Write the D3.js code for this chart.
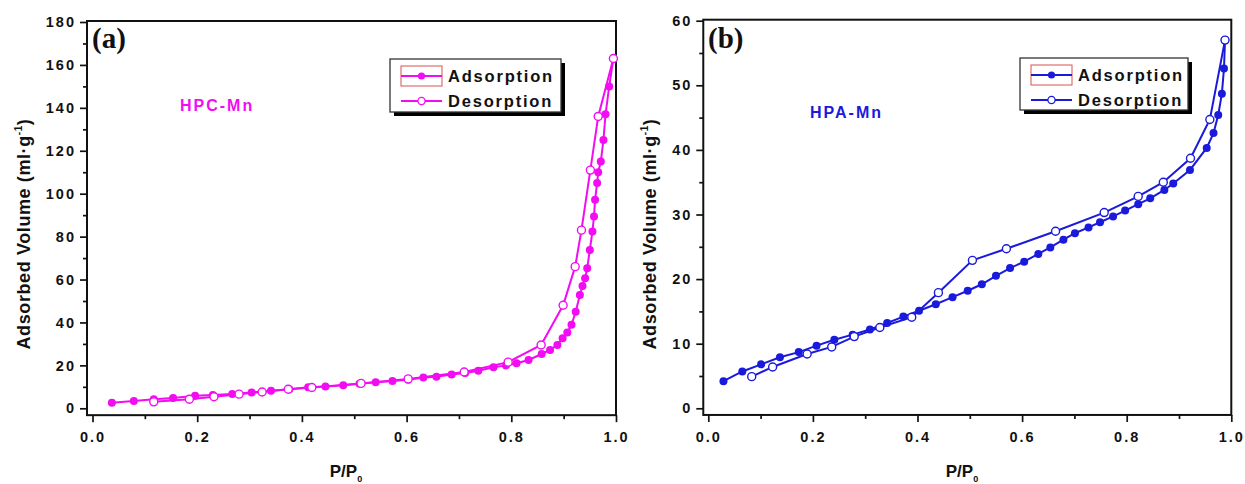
<!DOCTYPE html>
<html>
<head>
<meta charset="utf-8">
<script src="https://cdn.jsdelivr.net/npm/d3@7"></script>
<style>
body { margin: 0; background: #fff; }
svg { display: block; font-family: "Liberation Sans", Arial, sans-serif; }
</style>
</head>
<body>
<div id="chart"></div>
<script>
var svgWidth = 1245, svgHeight = 484;

// P/P0 ticks, same for both panels
var xMajorTicks = [0, 0.2, 0.4, 0.6, 0.8, 1.0];
var xMinorTicks = [0.1, 0.3, 0.5, 0.7, 0.9];

// (a) HPC-Mn
var hpcYTicks = [0, 20, 40, 60, 80, 100, 120, 140, 160, 180];
var hpcYMinor = [10, 30, 50, 70, 90, 110, 130, 150, 170];
var hpcAdsorption = [
  [0.037, 2.6], [0.079, 3.4], [0.117, 4.2], [0.154, 4.8], [0.196, 5.9], [0.23, 6.2],
  [0.267, 6.7], [0.304, 7.4], [0.341, 8.2], [0.376, 8.9], [0.412, 9.8], [0.445, 10.1],
  [0.479, 10.7], [0.51, 11.4], [0.541, 12.1], [0.573, 12.7], [0.603, 13.3], [0.632, 14.3],
  [0.657, 14.7], [0.686, 15.8], [0.712, 16.5], [0.737, 17.5], [0.766, 19.1], [0.79, 20],
  [0.81, 21], [0.833, 22.5], [0.858, 25.3], [0.874, 27.2], [0.888, 29.5], [0.898, 32.6],
  [0.907, 35.3], [0.915, 38.9], [0.923, 45], [0.931, 52.8], [0.936, 57], [0.941, 60.6],
  [0.945, 65.3], [0.95, 73.8], [0.955, 82.4], [0.958, 89.4], [0.96, 97.2], [0.964, 105],
  [0.966, 110], [0.971, 115], [0.976, 125], [0.98, 137], [0.987, 150], [0.995, 163]
];
var hpcDesorption = [
  [0.995, 163], [0.966, 136], [0.951, 111], [0.934, 83], [0.922, 66], [0.899, 48],
  [0.857, 29.5], [0.794, 21.5], [0.71, 16.9], [0.603, 13.7], [0.513, 11.6], [0.419, 9.7],
  [0.374, 8.9], [0.324, 7.6], [0.28, 6.6], [0.232, 5.4], [0.185, 4.2], [0.117, 3.0]
];

// (b) HPA-Mn
var hpaYTicks = [0, 10, 20, 30, 40, 50, 60];
var hpaYMinor = [5, 15, 25, 35, 45, 55];
var hpaAdsorption = [
  [0.029, 4.2], [0.065, 5.7], [0.101, 6.8], [0.137, 7.9], [0.173, 8.7], [0.207, 9.7],
  [0.241, 10.6], [0.276, 11.4], [0.309, 12.2], [0.342, 13.2], [0.373, 14.2], [0.403, 15.1],
  [0.435, 16.1], [0.467, 17.2], [0.496, 18.2], [0.523, 19.2], [0.55, 20.5], [0.577, 21.7],
  [0.604, 22.7], [0.631, 23.9], [0.654, 24.9], [0.679, 26.1], [0.701, 27.1], [0.727, 28.0],
  [0.749, 28.8], [0.774, 29.7], [0.797, 30.6], [0.822, 31.6], [0.845, 32.5], [0.872, 33.8],
  [0.889, 34.8], [0.921, 36.9], [0.953, 40.3], [0.966, 42.6], [0.975, 45.4], [0.982, 48.7],
  [0.986, 52.6], [0.988, 57.0]
];
var hpaDesorption = [
  [0.988, 57.0], [0.959, 44.7], [0.922, 38.7], [0.87, 35.0], [0.822, 32.8], [0.757, 30.3],
  [0.664, 27.4], [0.57, 24.7], [0.505, 22.9], [0.44, 17.9], [0.389, 14.1], [0.328, 12.5],
  [0.279, 11.1], [0.236, 9.5], [0.189, 8.4], [0.123, 6.4], [0.083, 4.9]
];

var legendLabels = ["Adsorption", "Desorption"];

var svg = d3.select("#chart")
  .append("svg")
  .attr("width", svgWidth)
  .attr("height", svgHeight);

var panels = [
  {
    tag: "(a)", name: "HPC-Mn", color: "#f20cf2",
    ads: hpcAdsorption, des: hpcDesorption,
    yTicks: hpcYTicks, yMinor: hpcYMinor,
    xRange: [92.5, 616], xMin: -0.0105,
    yDomain: [0, 180], yRange: [408.3, 22], yMin: -3.2,
    tagPos: [92, 48], namePos: [180, 111],
    legend: { x: 390, y: 59, w: 171, h: 53 },
    yTitleX: 30, xTitleX: 346
  },
  {
    tag: "(b)", name: "HPA-Mn", color: "#1a1adc",
    ads: hpaAdsorption, des: hpaDesorption,
    yTicks: hpaYTicks, yMinor: hpaYMinor,
    xRange: [708.3, 1231.3], xMin: -0.0096,
    yDomain: [0, 60], yRange: [408.3, 20.7], yMin: -1.03,
    tagPos: [708, 48], namePos: [810, 118],
    legend: { x: 1020, y: 58, w: 168, h: 52 },
    yTitleX: 656, xTitleX: 962
  }
];

panels.forEach(drawPanel);

function drawPanel(cfg) {
  var x = d3.scaleLinear().domain([0, 1]).range(cfg.xRange);
  var y = d3.scaleLinear().domain(cfg.yDomain).range(cfg.yRange);

  var left = x(cfg.xMin), right = x(1),
      top = y(cfg.yDomain[1]) - 1, bottom = y(cfg.yMin);

  var g = svg.append("g");

  // x axis: minor then major ticks, outward
  g.append("g")
    .attr("class", "tick-minor")
    .attr("transform", "translate(0," + bottom + ")")
    .call(d3.axisBottom(x).tickValues(xMinorTicks).tickSize(4).tickFormat(""));

  g.append("g")
    .attr("class", "tick-major")
    .attr("transform", "translate(0," + bottom + ")")
    .call(d3.axisBottom(x).tickValues(xMajorTicks).tickSize(7).tickPadding(10)
      .tickFormat(d3.format(".1f")));

  // y axis
  g.append("g")
    .attr("class", "tick-minor")
    .attr("transform", "translate(" + left + ",0)")
    .call(d3.axisLeft(y).tickValues(cfg.yMinor).tickSize(4).tickFormat(""));

  g.append("g")
    .attr("class", "tick-major")
    .attr("transform", "translate(" + left + ",0)")
    .call(d3.axisLeft(y).tickValues(cfg.yTicks).tickSize(7).tickPadding(4));

  g.selectAll(".domain").remove();
  g.selectAll(".tick line").attr("stroke", "#111").attr("stroke-width", 1.7);
  g.selectAll(".tick text")
    .attr("fill", "#111")
    .attr("font-size", 14.5)
    .attr("font-weight", "bold")
    .attr("letter-spacing", "2px")
    .attr("font-family", "Liberation Sans, Arial, sans-serif");

  // frame
  g.append("rect")
    .attr("x", left).attr("y", top)
    .attr("width", right - left).attr("height", bottom - top)
    .attr("fill", "none")
    .attr("stroke", "#111")
    .attr("stroke-width", 2);

  var line = d3.line()
    .x(d => x(d[0]))
    .y(d => y(d[1]));

  // adsorption: filled circles
  g.append("path")
    .datum(cfg.ads)
    .attr("d", line)
    .attr("fill", "none")
    .attr("stroke", cfg.color)
    .attr("stroke-width", 2);

  g.append("g").selectAll("circle")
    .data(cfg.ads)
    .enter()
    .append("circle")
    .attr("cx", d => x(d[0]))
    .attr("cy", d => y(d[1]))
    .attr("r", 4)
    .attr("fill", cfg.color);

  // desorption: open circles
  g.append("path")
    .datum(cfg.des)
    .attr("d", line)
    .attr("fill", "none")
    .attr("stroke", cfg.color)
    .attr("stroke-width", 2);

  g.append("g").selectAll("circle")
    .data(cfg.des)
    .enter()
    .append("circle")
    .attr("cx", d => x(d[0]))
    .attr("cy", d => y(d[1]))
    .attr("r", 4)
    .attr("fill", "#fff")
    .attr("stroke", cfg.color)
    .attr("stroke-width", 1.4);

  // panel tag and sample name
  g.append("text")
    .attr("x", cfg.tagPos[0]).attr("y", cfg.tagPos[1])
    .attr("font-family", "Liberation Serif, Times New Roman, serif")
    .attr("font-weight", "bold")
    .attr("font-size", 29)
    .attr("fill", "#111")
    .text(cfg.tag);

  g.append("text")
    .attr("x", cfg.namePos[0]).attr("y", cfg.namePos[1])
    .attr("font-weight", "bold")
    .attr("font-size", 16)
    .attr("letter-spacing", "2px")
    .attr("fill", cfg.color)
    .text(cfg.name);

  // axis titles
  var yTitle = g.append("text")
    .attr("transform", "translate(" + cfg.yTitleX + ",234) rotate(-90)")
    .attr("text-anchor", "middle")
    .attr("font-weight", "bold")
    .attr("font-size", 18)
    .attr("letter-spacing", "0.6px")
    .attr("fill", "#111");
  yTitle.append("tspan").text("Adsorbed Volume (ml\u00b7g");
  yTitle.append("tspan").attr("font-size", 10).attr("dy", -8).text("-1");
  yTitle.append("tspan").attr("dy", 8).text(")");

  var xTitle = g.append("text")
    .attr("x", cfg.xTitleX).attr("y", 477)
    .attr("text-anchor", "middle")
    .attr("font-weight", "bold")
    .attr("font-size", 17)
    .attr("fill", "#111");
  xTitle.append("tspan").text("P/P");
  xTitle.append("tspan").attr("font-size", 9).attr("dy", 5).text("0");

  drawLegend(g, cfg.legend, cfg.color);
}

function drawLegend(g, box, color) {
  var lg = g.append("g");

  // drop shadow then box
  lg.append("rect")
    .attr("x", box.x + 4).attr("y", box.y + 4)
    .attr("width", box.w).attr("height", box.h)
    .attr("fill", "#000");
  lg.append("rect")
    .attr("x", box.x).attr("y", box.y)
    .attr("width", box.w).attr("height", box.h)
    .attr("fill", "#fff")
    .attr("stroke", "#333")
    .attr("stroke-width", 1.3);

  var x0 = box.x + 11, x1 = box.x + 52;
  var rows = legendLabels.map((d, i) => ({ label: d, y: box.y + 17 + i * 25, open: i == 1 }));

  // red selection outline around first symbol
  lg.append("rect")
    .attr("x", x0).attr("y", rows[0].y - 10)
    .attr("width", x1 - x0).attr("height", 20)
    .attr("fill", "none")
    .attr("stroke", "#d9534f")
    .attr("stroke-width", 1);

  var items = lg.selectAll(".item")
    .data(rows)
    .enter()
    .append("g")
    .attr("class", "item");

  items.append("line")
    .attr("x1", x0).attr("x2", x1)
    .attr("y1", d => d.y).attr("y2", d => d.y)
    .attr("stroke", color)
    .attr("stroke-width", 2);

  items.append("circle")
    .attr("cx", (x0 + x1) / 2)
    .attr("cy", d => d.y)
    .attr("r", 3.6)
    .attr("fill", d => d.open ? "#fff" : color)
    .attr("stroke", d => d.open ? color : "none")
    .attr("stroke-width", 1.3);

  items.append("text")
    .attr("x", x1 + 6)
    .attr("y", d => d.y + 6)
    .attr("font-weight", "bold")
    .attr("font-size", 16.5)
    .attr("letter-spacing", "1.8px")
    .attr("fill", "#111")
    .text(d => d.label);
}
</script>
</body>
</html>
